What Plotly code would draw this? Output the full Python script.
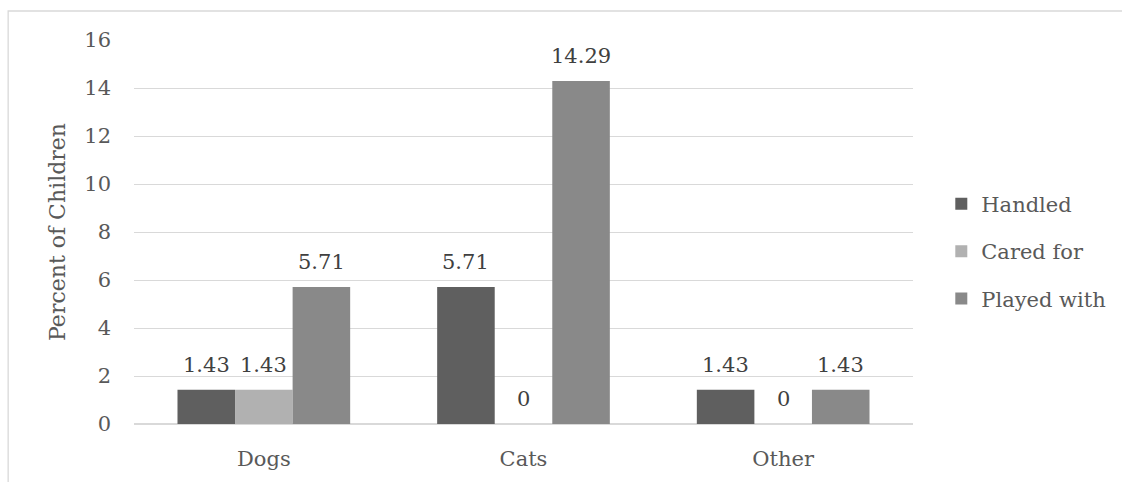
import plotly.graph_objects as go

categories = ["Dogs", "Cats", "Other"]
handled = [1.43, 5.71, 1.43]
cared_for = [1.43, 0, 0]
played_with = [5.71, 14.29, 1.43]
y_ticks = [0, 2, 4, 6, 8, 10, 12, 14, 16]

series = [
    ("Handled", handled, "#5f5f5f"),
    ("Cared for", cared_for, "#b1b1b1"),
    ("Played with", played_with, "#898989"),
]

FONT = "'DejaVu Serif', serif"
FS = 21
W, H = 1122, 482
M = dict(l=134, r=208, t=40, b=58)
BARGAP = 0.335

fig = go.Figure()
for i, (name, vals, color) in enumerate(series):
    fig.add_trace(go.Bar(
        x=categories, y=vals, name=name,
        marker=dict(color=color, line=dict(width=0)),
        legendgroup=name,
    ))

# value labels above each bar, shifted to the bar's slot in its group
plot_w = W - M["l"] - M["r"]
bar_w = plot_w / len(categories) * (1 - BARGAP) / len(series)
annotations = []
for i, (name, vals, color) in enumerate(series):
    for cat, v in zip(categories, vals):
        annotations.append(dict(
            x=cat, y=v, xref="x", yref="y",
            text=f"{v:g}", showarrow=False,
            xshift=(i - (len(series) - 1) / 2) * bar_w,
            yanchor="bottom", yshift=11,
            font=dict(family=FONT, size=FS, color="#404040"),
        ))

plot_h = H - M["t"] - M["b"]
fig.update_layout(
    width=W, height=H, margin=M,
    paper_bgcolor="white", plot_bgcolor="white",
    barmode="group", bargap=BARGAP, bargroupgap=0,
    font=dict(family=FONT, size=FS, color="#595959"),
    annotations=annotations,
    legend=dict(
        x=1.035, y=0.45, xanchor="left", yanchor="middle",
        font=dict(family=FONT, size=FS, color="#595959"),
        tracegroupgap=17, traceorder="grouped",
    ),
    xaxis=dict(
        showgrid=False, showline=False, zeroline=False,
        ticks="", ticklabelstandoff=20,
        tickfont=dict(family=FONT, size=FS, color="#595959"),
    ),
    yaxis=dict(
        range=[0, 16], tickvals=y_ticks,
        showgrid=True, gridcolor="#d9d9d9", gridwidth=1.3,
        zeroline=True, zerolinecolor="#d9d9d9", zerolinewidth=1.5,
        showline=False, ticks="", ticklabelstandoff=22,
        tickfont=dict(family=FONT, size=FS, color="#595959"),
        title=dict(text="Percent of Children", standoff=12,
                   font=dict(family=FONT, size=22, color="#595959")),
    ),
    shapes=[dict(
        type="rect", xref="paper", yref="paper",
        x0=(8 - M["l"]) / plot_w, x1=1.5,
        y0=-0.5, y1=(H - M["b"] - 11) / plot_h,
        line=dict(color="#d9d9d9", width=1.3), layer="below",
    )],
)

fig.write_html("out.html")
